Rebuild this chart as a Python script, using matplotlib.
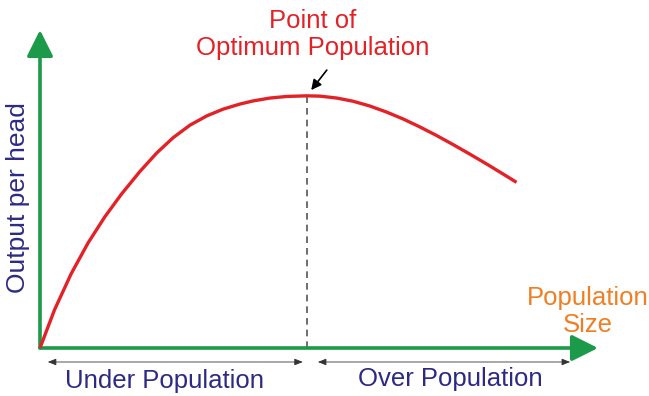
import matplotlib.pyplot as plt

plt.rcParams['font.family'] = ['Liberation Sans', 'DejaVu Sans']

# output per head against population size (arbitrary 0-10 units)
population = [0.00, 0.26, 0.56, 0.86, 1.16, 1.46, 1.79, 2.09, 2.39, 2.69,
              2.99, 3.28, 3.58, 3.82, 4.12, 4.42, 4.78, 5.02, 5.32, 5.61,
              5.91, 6.21, 6.51, 6.81, 7.11, 7.41, 7.71, 8.01, 8.30, 8.54]
output = [0.00, 1.20, 2.34, 3.30, 4.12, 4.84, 5.55, 6.13, 6.62, 7.01,
          7.30, 7.51, 7.67, 7.77, 7.86, 7.91, 7.93, 7.92, 7.86, 7.76,
          7.61, 7.42, 7.20, 6.95, 6.68, 6.39, 6.09, 5.78, 5.47, 5.21]
optimum_x = 4.78
optimum_y = 7.93

green = '#1b9a4a'
red = '#e32228'
navy = '#2d2a84'
orange = '#ef7f22'

fig = plt.figure(figsize=(6.49, 3.96), dpi=100)
ax = fig.add_axes([40 / 649, 48 / 396, 558 / 649, 318 / 396])
ax.set_xlim(0, 10)
ax.set_ylim(0, 10)
ax.axis('off')

# axes drawn as arrows
axis_arrow = dict(arrowstyle='-|>,head_length=0.8,head_width=0.4',
                  color=green, lw=2.6, mutation_scale=20, shrinkA=0, shrinkB=0)
ax.annotate('', xy=(10, 0), xytext=(0, 0), arrowprops=axis_arrow,
            annotation_clip=False)
ax.annotate('', xy=(0, 10), xytext=(0, 0), arrowprops=axis_arrow,
            annotation_clip=False)

ax.plot(population, output, color=red, lw=2.4, solid_joinstyle='round',
        solid_capstyle='butt', clip_on=False, zorder=3)
ax.plot([optimum_x, optimum_x], [0, optimum_y], color='#555555', lw=1.2,
        ls=(0, (4, 3)), zorder=2)

# under / over population spans
span = dict(arrowstyle='<|-|>,head_length=0.5,head_width=0.2',
            color='#333333', lw=0.6, mutation_scale=10, shrinkA=0, shrinkB=0)
ax.annotate('', xy=(4.71, -0.44), xytext=(0.14, -0.44), arrowprops=span,
            annotation_clip=False)
ax.annotate('', xy=(9.5, -0.44), xytext=(4.98, -0.44), arrowprops=span,
            annotation_clip=False)

ax.text(2.24, -1.03, 'Under Population', color=navy, fontsize=18.5,
        ha='center', va='center', clip_on=False)
ax.text(7.35, -0.97, 'Over Population', color=navy, fontsize=18.5,
        ha='center', va='center', clip_on=False)

ax.text(-0.39, 4.72, 'Output per head', color=navy, fontsize=19,
        rotation=90, ha='center', va='center', clip_on=False)
ax.text(9.82, 1.16, 'Population\nSize', color=orange, fontsize=18.5,
        ha='center', va='center', linespacing=1.15, clip_on=False)

ax.text(4.89, 9.86, 'Point of\nOptimum Population', color=red, fontsize=18.5,
        ha='center', va='center', linespacing=1.2, clip_on=False)
ax.annotate('', xy=(4.86, 8.11), xytext=(5.14, 8.74), annotation_clip=False,
            arrowprops=dict(arrowstyle='-|>,head_length=0.6,head_width=0.3',
                            color='black', lw=1.2, shrinkA=0, shrinkB=0))

fig.savefig('out.png', dpi=100, facecolor='white')
